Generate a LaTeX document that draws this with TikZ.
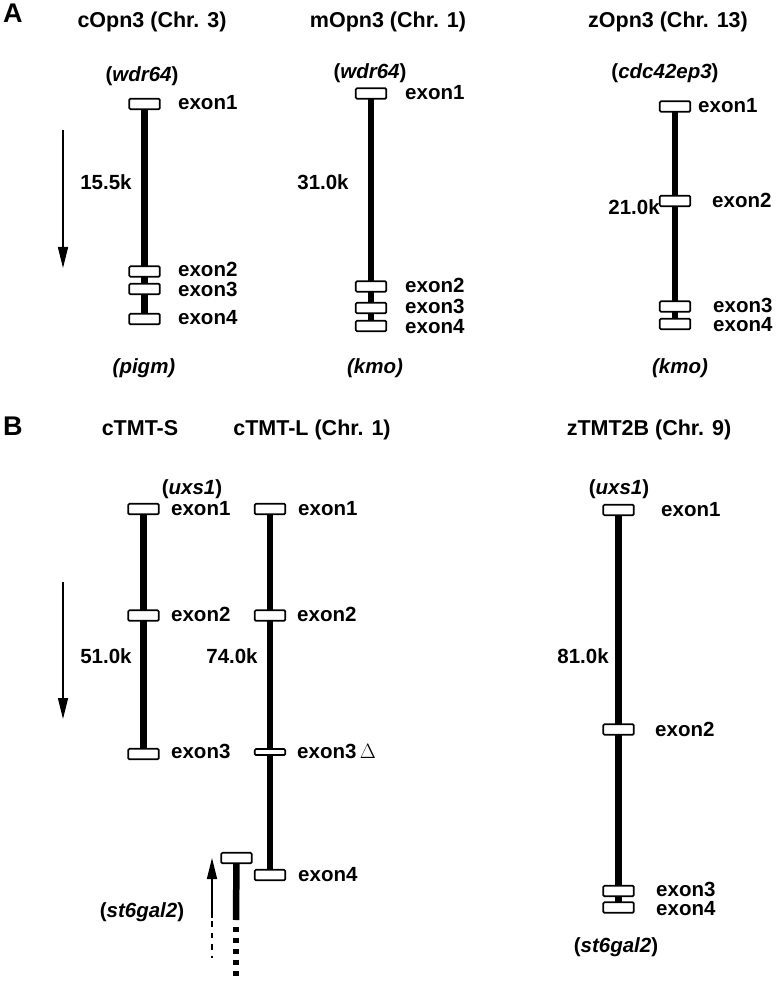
\documentclass[tikz,border=0pt]{standalone}
\usepackage{fontspec}
\setmainfont{Liberation Sans}
\usetikzlibrary{arrows.meta,backgrounds}
\begin{document}
\begin{tikzpicture}[x=1pt,y=-1pt,
  txt/.style={inner sep=0pt, font=\bfseries\fontsize{20.5}{24}\selectfont, text height=14.7pt, text depth=0pt},
  head/.style={txt, font=\bfseries\fontsize{21.5}{25}\selectfont},
  lbl/.style={txt, anchor=west},
  panel/.style={inner sep=0pt, anchor=west, font=\bfseries\fontsize{27}{30}\selectfont, text height=19.3pt, text depth=0pt},
  exonbox/.style={draw, line width=1.7pt, fill=white, minimum width=30.5pt, minimum height=10.5pt, inner sep=0pt, rounded corners=1.2pt},
  thinexon/.style={exonbox, minimum height=6pt},
  gline/.style={line width=6.5pt},
  dirarrow/.style={line width=1.4pt, -{Triangle[length=21pt,width=10pt]}},
  thindash/.style={line width=1.4pt, dash pattern=on 5.5pt off 6pt},
]
\useasboundingbox (0,0) rectangle (777,981);

% ---------------- Panel A ----------------
\node[panel] (pA) at (3,13) {A};
\node[head] (hA1) at (152,20) {cOpn3 (Chr. 3)};
\node[head] (hA2) at (388,20) {mOpn3 (Chr. 1)};
\node[head] (hA3) at (668,20) {zOpn3 (Chr. 13)};

% cOpn3
\node[txt] (cw) at (142,74) {(\textit{wdr64})};
\node[exonbox] (c1) at (144.5,104) {};
\node[exonbox] (c2) at (144.5,271.5) {};
\node[exonbox] (c3) at (144.5,289) {};
\node[exonbox] (c4) at (144.5,319) {};
\node[lbl] (c1l) at (178,102.5) {exon1};
\node[lbl] (c2l) at (178,269) {exon2};
\node[lbl] (c3l) at (178,289.5) {exon3};
\node[lbl] (c4l) at (178,317.5) {exon4};
\node[txt] (cd) at (106,182) {15.5k};
\node[txt] (cp) at (144,366) {\textit{(pigm)}};
\coordinate (aA1) at (63,130);
\coordinate (aA2) at (63,268);
\draw[dirarrow] (aA1) -- (aA2);

% mOpn3
\node[txt] (mw) at (370,71) {(\textit{wdr64})};
\node[exonbox] (m1) at (371,93.5) {};
\node[exonbox] (m2) at (371,286.5) {};
\node[exonbox] (m3) at (371,308) {};
\node[exonbox] (m4) at (371,326) {};
\node[lbl] (m1l) at (405,92) {exon1};
\node[lbl] (m2l) at (405,285) {exon2};
\node[lbl] (m3l) at (405,306.5) {exon3};
\node[lbl] (m4l) at (405,326) {exon4};
\node[txt] (md) at (323,182) {31.0k};
\node[txt] (mk) at (375,366) {\textit{(kmo)}};

% zOpn3
\node[txt] (zc) at (665,71) {(\textit{cdc42ep3})};
\node[exonbox] (z1) at (675,106.5) {};
\node[exonbox] (z2) at (675,201) {};
\node[exonbox] (z3) at (675,306.5) {};
\node[exonbox] (z4) at (675,324) {};
\node[lbl] (z1l) at (698,105) {exon1};
\node[lbl] (z2l) at (712,200) {exon2};
\node[lbl] (z3l) at (713,305.5) {exon3};
\node[lbl] (z4l) at (713,324.5) {exon4};
\node[txt] (zd) at (634,207) {21.0k};
\node[txt] (zk) at (680,366) {\textit{(kmo)}};

% ---------------- Panel B ----------------
\node[panel] (pB) at (3,426) {B};
\node[head] (hB1) at (140,428) {cTMT-S};
\node[head] (hB2) at (312,428) {cTMT-L (Chr. 1)};
\node[head] (hB3) at (649,428) {zTMT2B (Chr. 9)};

% cTMT-S
\node[txt] (su) at (192,487) {(\textit{uxs1})};
\node[exonbox] (s1) at (143.5,509) {};
\node[exonbox] (s2) at (143.5,615.5) {};
\node[exonbox] (s3) at (143.5,754) {};
\node[lbl] (s1l) at (171,508.5) {exon1};
\node[lbl] (s2l) at (171,614) {exon2};
\node[lbl] (s3l) at (171,751.5) {exon3};
\node[txt] (sd) at (106,656) {51.0k};
\coordinate (aB1) at (63,582);
\coordinate (aB2) at (63,719);
\draw[dirarrow] (aB1) -- (aB2);

% cTMT-L
\node[exonbox] (l1) at (270,509) {};
\node[exonbox] (l2) at (270,615.5) {};
\node[thinexon] (l3) at (270,752) {};
\node[exonbox] (l4) at (270,875) {};
\node[lbl] (l1l) at (298,508.5) {exon1};
\node[lbl] (l2l) at (297,614) {exon2};
\node[lbl] (l3l) at (297,751) {exon3\,$\Delta$};
\node[lbl] (l4l) at (298,874) {exon4};
\node[txt] (ld) at (232,656) {74.0k};

% st6gal2 (neighbour gene)
\node[exonbox] (g1) at (236.5,858) {};
\coordinate (gS) at (236,920);
\coordinate (gD1) at (236,927);
\coordinate (gD2) at (236,977.5);
\node[txt] (gl) at (142,910) {(\textit{st6gal2})};
\coordinate (uA) at (212,918);
\coordinate (uB) at (212,858);
\coordinate (uC) at (212,921);
\coordinate (uD) at (212,958);
\draw[dirarrow] (uA) -- (uB);
\draw[thindash] (uC) -- (uD);

% zTMT2B
\node[txt] (tu) at (619,487) {(\textit{uxs1})};
\node[exonbox] (t1) at (618.5,510) {};
\node[exonbox] (t2) at (618.5,729.5) {};
\node[exonbox] (t3) at (618.5,891) {};
\node[exonbox] (t4) at (618.5,907.5) {};
\node[lbl] (t1l) at (661,509) {exon1};
\node[lbl] (t2l) at (655,729.5) {exon2};
\node[lbl] (t3l) at (656,889) {exon3};
\node[lbl] (t4l) at (656,908) {exon4};
\node[txt] (td) at (583,656) {81.0k};
\node[txt] (ts) at (616,945) {(\textit{st6gal2})};

% gene backbones
\begin{scope}[on background layer]
\draw[gline] (c1.center) -- (c4.center);
\draw[gline] (m1.center) -- (m4.center);
\draw[gline] (z1.center) -- (z4.center);
\draw[gline] (s1.center) -- (s3.center);
\draw[gline] (l1.center) -- (l4.center);
\draw[gline] (t1.center) -- (t4.center);
\draw[gline] (g1.center) -- (gS);
\draw[gline, dash pattern=on 4.5pt off 6.5pt] (gD1) -- (gD2);
\end{scope}
\end{tikzpicture}
\end{document}
